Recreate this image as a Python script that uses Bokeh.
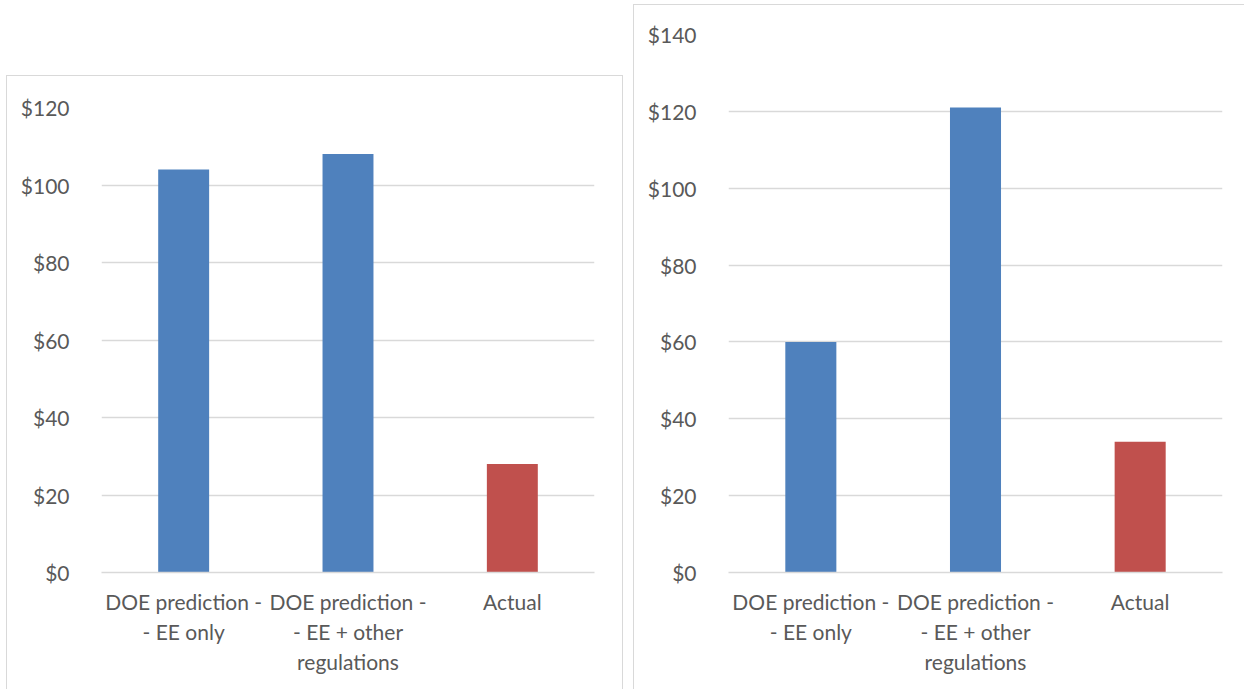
from bokeh.plotting import figure
from bokeh.models import Range1d, FactorRange, FixedTicker, NumeralTickFormatter, ColumnDataSource, Spacer
from bokeh.layouts import row, column
from bokeh.embed import file_html
from bokeh.resources import INLINE

categories = ["DOE prediction -\n- EE only", "DOE prediction -\n- EE + other\nregulations", "Actual"]
left_values = [104, 108, 28]
right_values = [60, 121, 34]
left_ticks = [0, 20, 40, 60, 80, 100, 120]
right_ticks = [0, 20, 40, 60, 80, 100, 120, 140]

BLUE = "#4F81BD"
RED = "#C0504D"
bar_colors = [BLUE, BLUE, RED]
FONT = "Lato"
TXT = "#595959"
GRID = "#d9d9d9"


def make_chart(values, ticks, width, height, top_border, right_border, border_styles):
    src = ColumnDataSource(dict(cat=categories, val=values, color=bar_colors))
    p = figure(x_range=FactorRange(*categories, range_padding=0),
               y_range=Range1d(0, ticks[-1]),
               width=width, height=height, output_backend="svg", toolbar_location=None,
               min_border_left=94, min_border_right=right_border, min_border_top=top_border,
               min_border_bottom=118)
    p.vbar(x="cat", top="val", width=0.31, color="color", source=src, line_color=None)
    p.outline_line_color = None
    p.xgrid.grid_line_color = None
    p.ygrid.grid_line_color = GRID
    p.ygrid.grid_line_width = 1.5
    p.yaxis.ticker = FixedTicker(ticks=ticks)
    p.yaxis.formatter = NumeralTickFormatter(format="$0")
    for ax in (p.xaxis[0], p.yaxis[0]):
        ax.axis_line_color = None
        ax.major_tick_line_color = None
        ax.minor_tick_line_color = None
        ax.major_label_text_font = FONT
        ax.major_label_text_font_size = "21px"
        ax.major_label_text_color = TXT
    p.yaxis.major_label_standoff = 26
    p.xaxis.major_label_standoff = 10
    p.xaxis.axis_line_color = GRID
    p.xaxis.axis_line_width = 1.5
    st = {"box-sizing": "border-box"}
    st.update(border_styles)
    p.styles = st
    return p


p1 = make_chart(left_values, left_ticks, 617, 614, 31, 30,
                {"border-top": "1px solid #d9d9d9", "border-left": "1px solid #d9d9d9",
                 "border-right": "1px solid #d9d9d9"})
p2 = make_chart(right_values, right_ticks, 612, 685, 29, 24,
                {"border-top": "1px solid #d9d9d9", "border-left": "1px solid #d9d9d9"})

layout = row(Spacer(width=6), column(Spacer(height=75), p1), Spacer(width=10), column(Spacer(height=4), p2))

open("out.html", "w").write(file_html(layout, INLINE))
